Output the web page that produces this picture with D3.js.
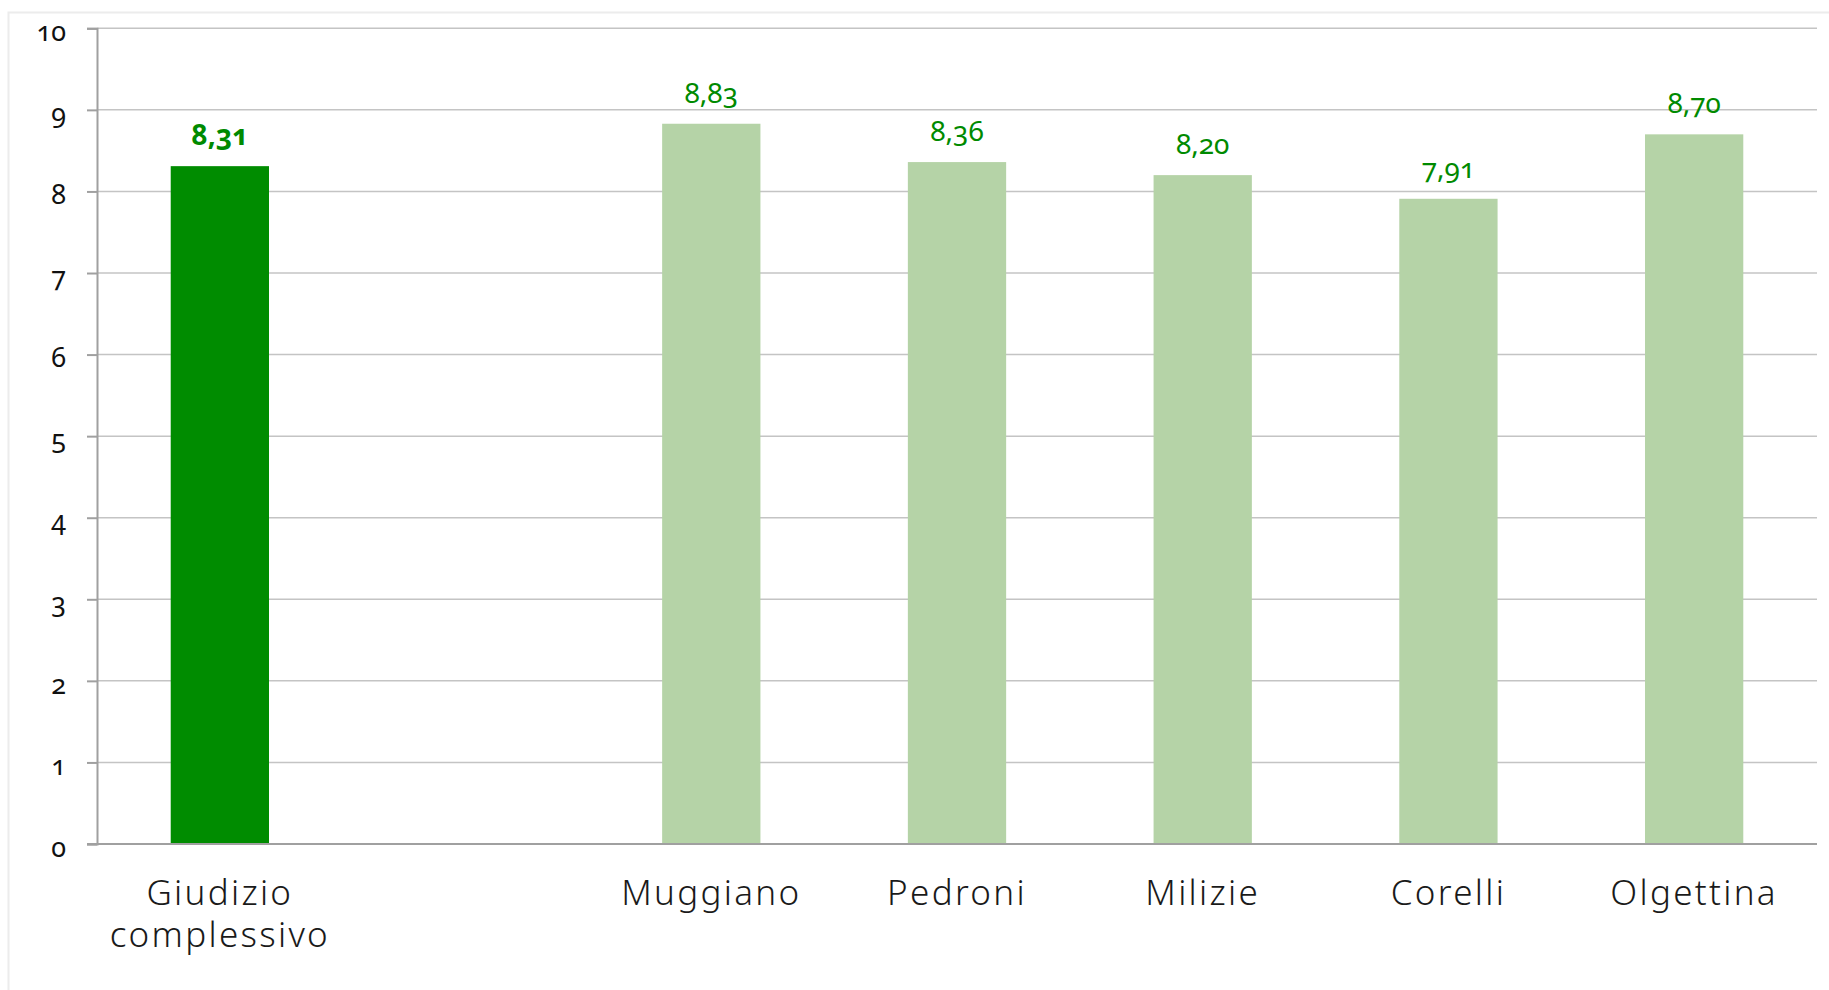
<!DOCTYPE html>
<html>
<head>
<meta charset="utf-8">
<script src="https://cdn.jsdelivr.net/npm/d3@7"></script>
<style>
  html, body { margin: 0; padding: 0; background: #ffffff; }
  svg { display: block; }
  .num { font-family: "Noto Sans", sans-serif; font-variant-numeric: oldstyle-nums; font-feature-settings: "onum" 1; }
  .cat { font-family: "Noto Sans", sans-serif; font-weight: 300; letter-spacing: 2.3px; }
</style>
</head>
<body>
<svg id="chart" width="1829" height="990"></svg>
<script>
// Categories (an empty slot separates the overall score from the single sites)
const categories = ["Giudizio complessivo", "", "Muggiano", "Pedroni", "Milizie", "Corelli", "Olgettina"];
const scores = [8.31, null, 8.83, 8.36, 8.20, 7.91, 8.70];
const scoreLabels = ["8,31", "", "8,83", "8,36", "8,20", "7,91", "8,70"];
const yTicks = [0, 1, 2, 3, 4, 5, 6, 7, 8, 9, 10];

const W = 1829, H = 990;
const svg = d3.select("#chart");

// card frame
svg.append("rect")
  .attr("x", 8.5).attr("y", 12.5)
  .attr("width", W + 10).attr("height", H + 10)
  .attr("fill", "#ffffff")
  .attr("stroke", "#ececec").attr("stroke-width", 2);

const plot = { left: 97, right: 1817, top: 28.3, bottom: 844 };

const x = d3.scaleBand()
  .domain(categories.map((d, i) => i))
  .range([plot.left, plot.right])
  .paddingInner(0.6).paddingOuter(0.3);

const y = d3.scaleLinear().domain([0, 10]).range([plot.bottom, plot.top]);

// horizontal gridlines
svg.append("g")
  .selectAll("line")
  .data(yTicks.filter(t => t > 0))
  .join("line")
  .attr("x1", plot.left).attr("x2", plot.right)
  .attr("y1", d => y(d)).attr("y2", d => y(d))
  .attr("stroke", "#c4c4c4").attr("stroke-width", 1.5);

// y axis with outward ticks
const yAxis = d3.axisLeft(y).tickValues(yTicks).tickSize(10).tickPadding(21).tickFormat(d3.format("d"));
const gy = svg.append("g").attr("transform", `translate(${plot.left},0)`).call(yAxis);
gy.select(".domain").attr("stroke", "#a0a0a0").attr("stroke-width", 2);
gy.selectAll(".tick line").attr("stroke", "#a0a0a0").attr("stroke-width", 2);
gy.selectAll(".tick text")
  .attr("class", "num")
  .attr("font-size", 27)
  .attr("fill", "#111111")
  .attr("dy", "0.45em");

const barData = scores.map((v, i) => ({ v, i })).filter(d => d.v !== null);

// bars
svg.append("g")
  .selectAll("rect")
  .data(barData)
  .join("rect")
  .attr("x", d => x(d.i))
  .attr("width", x.bandwidth())
  .attr("y", d => y(d.v))
  .attr("height", d => y(0) - y(d.v))
  .attr("fill", d => d.i === 0 ? "#008c00" : "#b5d3a7");

// value labels
svg.append("g")
  .selectAll("text")
  .data(barData)
  .join("text")
  .attr("class", "num")
  .attr("x", d => x(d.i) + x.bandwidth() / 2)
  .attr("y", d => y(d.v) - 21)
  .attr("text-anchor", "middle")
  .attr("font-size", 28)
  .attr("font-weight", d => d.i === 0 ? 700 : 400)
  .attr("fill", "#008a00")
  .text(d => scoreLabels[d.i]);

// x axis baseline
svg.append("line")
  .attr("x1", plot.left - 10).attr("x2", plot.right)
  .attr("y1", plot.bottom).attr("y2", plot.bottom)
  .attr("stroke", "#a0a0a0").attr("stroke-width", 2);

// category labels (wrapped on spaces)
const cat = svg.append("g")
  .selectAll("text")
  .data(categories.map((c, i) => ({ c, i })).filter(d => d.c))
  .join("text")
  .attr("class", "cat")
  .attr("x", d => x(d.i) + x.bandwidth() / 2)
  .attr("y", plot.bottom + 61)
  .attr("text-anchor", "middle")
  .attr("font-size", 35)
  .attr("fill", "#1a1a1a");
cat.each(function(d) {
  const words = d.c.split(" ");
  const t = d3.select(this);
  words.forEach((w, k) => {
    t.append("tspan")
      .attr("x", x(d.i) + x.bandwidth() / 2)
      .attr("dy", k === 0 ? 0 : 42)
      .text(w);
  });
});
</script>
</body>
</html>
